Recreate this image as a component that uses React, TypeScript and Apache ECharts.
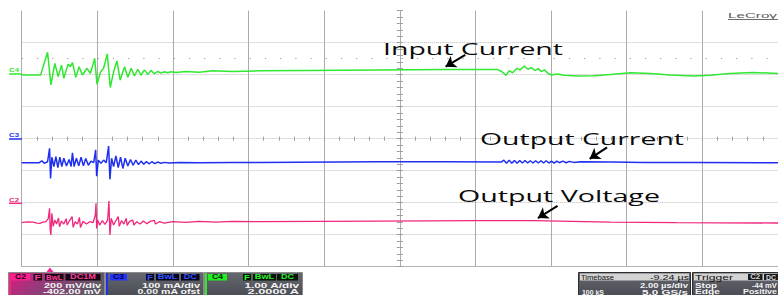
import React, { useEffect, useRef } from 'react';
import * as echarts from 'echarts';

// ---- Data (time in µs at 2.00 µs/div, level in screen divisions from bottom) ----
const timeSpanUs = 20;
const timePerDivUs = 2;
const verticalDivisions = 8;

const inputCurrentC4: [number, number][] = [
  [0, 5.99], [0.5, 5.99], [0.684, 6.7], [0.772, 5.68], [0.877, 6.35], [0.965, 5.94], [1.053, 6.3], [1.114, 5.89],
  [1.228, 6.33], [1.289, 6.25], [1.342, 6.38], [1.43, 5.92], [1.518, 6.25], [1.605, 5.99], [1.728, 6.2], [1.816, 6.04],
  [1.93, 6.51], [1.991, 5.7], [2.088, 6.09], [2.167, 6.2], [2.263, 6.65], [2.342, 5.6], [2.43, 6.09], [2.518, 6.43],
  [2.605, 5.83], [2.719, 6.25], [2.807, 5.92], [2.895, 6.2], [2.982, 5.96], [3.07, 6.17], [3.158, 5.99], [3.246, 6.15],
  [3.333, 6.01], [3.421, 6.13], [3.509, 6.03], [3.596, 6.1], [3.684, 6.05], [3.772, 6.09], [3.86, 6.06], [3.947, 6.09],
  [4.079, 6.07], [4.342, 6.1], [4.693, 6.08], [5.044, 6.12], [5.57, 6.1], [6.272, 6.12], [7.5, 6.13], [9.43, 6.15],
  [11.18, 6.16], [12.59, 6.16], [12.69, 6.1], [12.81, 5.98], [12.89, 6.13], [12.98, 6.06], [13.1, 6.2], [13.18, 6.15],
  [13.29, 6.27], [13.39, 6.17], [13.48, 6.22], [13.57, 6.13], [13.66, 6.19], [13.74, 6.1], [13.83, 6.15], [13.92, 6.04],
  [14.01, 5.99], [14.17, 6.02], [14.34, 5.98], [14.69, 5.96], [15.13, 5.97], [15.57, 6.01], [16.1, 6.06], [16.62, 6.04],
  [17.15, 5.99], [17.76, 5.96], [18.2, 5.98], [18.73, 6.04], [19.34, 6.07], [20, 6.04],
];

const outputCurrentC3: [number, number][] = [
  [0, 3.25], [0.465, 3.25], [0.535, 3.31], [0.596, 3.23], [0.684, 3.28], [0.737, 3.7], [0.763, 2.76], [0.798, 3.42],
  [0.851, 3.13], [0.904, 3.44], [0.956, 3.1], [1.009, 3.42], [1.061, 3.13], [1.114, 3.39], [1.184, 3.15], [1.254, 3.35],
  [1.307, 3.13], [1.342, 3.56], [1.386, 3.13], [1.447, 3.39], [1.509, 3.15], [1.57, 3.42], [1.632, 3.15], [1.693, 3.38],
  [1.763, 3.17], [1.833, 3.3], [1.904, 3.25], [1.956, 3.65], [1.982, 2.83], [2.026, 3.33], [2.096, 3.23], [2.167, 3.33],
  [2.237, 3.25], [2.298, 3.77], [2.333, 2.73], [2.377, 3.39], [2.43, 3.13], [2.491, 3.46], [2.553, 3.1], [2.614, 3.42],
  [2.675, 3.07], [2.737, 3.39], [2.807, 3.15], [2.877, 3.35], [2.947, 3.17], [3.018, 3.33], [3.088, 3.19], [3.158, 3.3],
  [3.228, 3.2], [3.298, 3.29], [3.368, 3.21], [3.439, 3.28], [3.518, 3.22], [3.596, 3.27], [3.684, 3.23], [3.772, 3.26],
  [3.904, 3.24], [4.167, 3.26], [4.693, 3.25], [5.57, 3.26], [6.272, 3.26], [9.43, 3.28], [11.18, 3.28], [12.68, 3.27],
  [12.75, 3.33], [12.82, 3.23], [12.89, 3.33], [12.96, 3.23], [13.03, 3.32], [13.1, 3.23], [13.17, 3.32], [13.24, 3.24],
  [13.31, 3.32], [13.38, 3.24], [13.45, 3.31], [13.52, 3.24], [13.59, 3.31], [13.66, 3.24], [13.73, 3.31], [13.8, 3.24],
  [13.87, 3.31], [13.94, 3.24], [14.01, 3.3], [14.08, 3.24], [14.15, 3.3], [14.22, 3.25], [14.31, 3.3], [14.4, 3.25],
  [14.48, 3.29], [14.61, 3.26], [14.78, 3.28], [15.57, 3.27], [16.45, 3.26], [17.76, 3.26], [20, 3.25],
];

const outputVoltageC2: [number, number][] = [
  [0, 1.375], [0.15, 1.4], [0.307, 1.396], [0.4, 1.36], [0.482, 1.354], [0.56, 1.39], [0.64, 1.406], [0.702, 1.5],
  [0.737, 1.823], [0.754, 1.146], [0.772, 0.99], [0.798, 1.667], [0.833, 1.26], [0.877, 1.458], [0.921, 1.333],
  [0.974, 1.521], [1.0, 1.25], [1.053, 1.427], [1.114, 1.333], [1.175, 1.5], [1.202, 1.302], [1.254, 1.417],
  [1.333, 1.563], [1.36, 1.229], [1.412, 1.406], [1.474, 1.333], [1.526, 1.542], [1.553, 1.229], [1.623, 1.417],
  [1.711, 1.333], [1.798, 1.406], [1.886, 1.375], [1.947, 1.615], [1.965, 1.979], [1.982, 1.198], [2.009, 1.458],
  [2.061, 1.302], [2.132, 1.438], [2.202, 1.323], [2.272, 1.458], [2.307, 2.052], [2.333, 0.99], [2.368, 1.51],
  [2.43, 1.302], [2.5, 1.458], [2.553, 1.563], [2.579, 1.26], [2.64, 1.438], [2.702, 1.333], [2.763, 1.51],
  [2.789, 1.292], [2.851, 1.417], [2.939, 1.458], [2.965, 1.302], [3.044, 1.406], [3.132, 1.333], [3.219, 1.427],
  [3.307, 1.344], [3.395, 1.417], [3.509, 1.448], [3.535, 1.333], [3.64, 1.406], [3.772, 1.365], [3.991, 1.406],
  [4.342, 1.385], [4.693, 1.417], [5.132, 1.396], [5.57, 1.417], [6.272, 1.406], [9.43, 1.427], [12.06, 1.438],
  [13.55, 1.438], [15.57, 1.396], [17.32, 1.375], [20, 1.365],
];

const annotationTexts = ['Input Current', 'Output Current', 'Output Voltage'];
const arrowTails: [number, number][] = [[11.73, 6.62], [15.48, 3.73], [14.17, 1.9]];
const arrowHeads: [number, number][] = [[11.21, 6.25], [15.02, 3.37], [13.65, 1.52]];
const dottedLevelDiv = 6.5;

const channelNames = ['C2', 'C3', 'C4'];
const channelScales = ['200 mV/div', '100 mA/div', '1.00 A/div'];
const channelOffsets = ['-402.00 mV', '0.00 mA ofst', '2.0000 A'];
const channelFlags = [['F', 'BwL', 'DC1M'], ['F', 'BwL', 'DC'], ['F', 'BwL', 'DC']];
const timebaseTexts = ['Timebase', '-9.24 µs', '2.00 µs/div', '100 kS', '5.0 GS/s'];
const triggerTexts = ['Trigger', 'C2', 'DC', 'Stop', '-44 mV', 'Edge', 'Positive'];
const brandText = 'LeCroy';

// ---- Styling / layout ----
const GREEN = '#2fe82f';
const BLUE = '#1f2ff0';
const PINK = '#f0277d';
const SANS = '"Liberation Sans"';
const BODY_FONT = `bold 7.5px ${SANS}`;
const BODY_FONT2 = `bold 7px ${SANS}`;
const HEAD_FONT = `8px ${SANS}`;

let measureCtx: CanvasRenderingContext2D | null = null;
function measure(text: string, font: string) {
  if (!measureCtx) measureCtx = document.createElement('canvas').getContext('2d');
  measureCtx!.font = font;
  return measureCtx!.measureText(text).width || 1;
}

function txt(text: string, x: number, y: number, font: string, fill: string, width?: number, align: string = 'left') {
  const scaleX = width ? width / measure(text, font) : 1;
  return {
    type: 'text', x, y, scaleX, silent: true, z: 100,
    style: { text, font, fill, align, verticalAlign: 'middle' },
  };
}

function rect(x: number, y: number, w: number, h: number, fill: any, stroke?: string) {
  return {
    type: 'rect', silent: true, z: 90,
    shape: { x, y, width: w, height: h },
    style: stroke ? { fill, stroke, lineWidth: 1 } : { fill },
  };
}

function buildGraphics() {
  const els: any[] = [];
  // annotation texts
  const annoFont = `15.5px "Open Sans"`;
  const annoPos = [[383, 48.8, 180], [480, 138.8, 204], [458, 195.5, 202]];
  annotationTexts.forEach((t, i) => {
    const [x, y, w] = annoPos[i];
    els.push(txt(t, x, y, annoFont, '#0a0a0a', w));
  });
  // brand
  els.push(txt(brandText, 728, 15.6, `8px ${SANS}`, '#5a5a5a', 49));
  els.push({ type: 'line', silent: true, z: 100, shape: { x1: 728, y1: 19.5, x2: 778, y2: 19.5 }, style: { stroke: '#6a6a6a', lineWidth: 1 } });

  // channel markers on the left
  const markerY = [[70, 74, GREEN, 'C4'], [134.7, 139, BLUE, 'C3'], [199.7, 203.3, PINK, 'C2']];
  markerY.forEach(([ty, ly, color, name]: any) => {
    els.push(txt(name, 9, ty, `bold 5.5px ${SANS}`, color, 10));
    els.push({ type: 'line', silent: true, z: 100, shape: { x1: 9, y1: ly, x2: 21.7, y2: ly }, style: { stroke: color, lineWidth: 1.5 } });
  });

  // trigger position marker
  els.push({ type: 'polygon', silent: true, z: 100, shape: { points: [[46.5, 272], [53.5, 272], [50, 267.5]] }, style: { fill: '#ff1f8f' } });

  // channel panels
  const panelX = [[8.5, 96], [105.5, 98], [204.5, 98]];
  const chColors = [PINK, BLUE, GREEN];
  const labelBoxFill = ['#ff1f8f', '#2233ff', '#22ee22'];
  const labelTextFill = ['#1a0010', '#000040', '#002a00'];
  const flagBoxFill = ['#160810', '#05051e', '#061406'];
  const flagTextFill = ['#ff3d9a', '#3355ff', '#2ef02e'];
  const labelBoxes = [[11, 19], [110, 17], [208, 19]];
  const flagBoxes = [
    [[33.5, 8.5], [45, 18.5], [65.5, 35]],
    [[146, 8], [156, 23], [181, 18.5]],
    [[243, 8], [253, 23], [277, 21]],
  ];
  const rightEdge = [101, 200, 299];
  const scaleW = [57, 58, 55];
  const offsetW = [58, 63, 52];
  panelX.forEach(([px, pw], i) => {
    const fill = i === 0
      ? new echarts.graphic.LinearGradient(0, 0, 1, 0.3, [
          { offset: 0, color: '#dc1a80' }, { offset: 0.45, color: '#963a7a' }, { offset: 1, color: '#5e5a66' }])
      : new echarts.graphic.LinearGradient(0, 0, 0, 1, [
          { offset: 0, color: '#65686f' }, { offset: 1, color: '#4a4c53' }]);
    els.push(rect(px, 272.5, pw, 24, fill, '#8a8a8a'));
    els.push(rect(px + 0.5, 273, 2, 23, chColors[i]));
    const [lx, lw] = labelBoxes[i];
    els.push(rect(lx, 274, lw, 6.5, labelBoxFill[i]));
    els.push(txt(channelNames[i], lx + lw / 2, 277.3, `bold 6.5px ${SANS}`, labelTextFill[i], 11, 'center'));
    flagBoxes[i].forEach(([fx, fw], k) => {
      els.push(rect(fx, 274, fw, 6.5, flagBoxFill[i]));
      const t = channelFlags[i][k];
      els.push(txt(t, fx + fw / 2, 277.3, `bold 6.5px ${SANS}`, flagTextFill[i], Math.min(fw - 2, t.length * 6.5), 'center'));
    });
    els.push(txt(channelScales[i], rightEdge[i], 285.3, BODY_FONT, '#f4f4f4', scaleW[i], 'right'));
    els.push(txt(channelOffsets[i], rightEdge[i], 292, BODY_FONT2, '#f4f4f4', offsetW[i], 'right'));
  });

  // timebase panel
  const grayBody = () => new echarts.graphic.LinearGradient(0, 0, 0, 1, [
    { offset: 0, color: '#64676e' }, { offset: 1, color: '#4a4c53' }]);
  els.push(rect(578.5, 272.5, 112, 24, grayBody(), '#2e2e2e'));
  els.push(rect(580, 273.5, 109, 7, '#d3d3d3'));
  els.push(txt(timebaseTexts[0], 581, 277.2, HEAD_FONT, '#111', 33));
  els.push(txt(timebaseTexts[1], 689, 277.2, HEAD_FONT, '#111', 39, 'right'));
  els.push(txt(timebaseTexts[2], 688, 285.3, BODY_FONT, '#f4f4f4', 48, 'right'));
  els.push(txt(timebaseTexts[3], 582, 292, BODY_FONT2, '#f4f4f4', 22));
  els.push(txt(timebaseTexts[4], 688, 292, BODY_FONT2, '#f4f4f4', 46, 'right'));

  // trigger panel
  els.push(rect(692.5, 272.5, 92, 24, grayBody(), '#2e2e2e'));
  els.push(rect(694, 273.5, 90, 7, '#d3d3d3'));
  els.push(txt(triggerTexts[0], 695, 277.2, HEAD_FONT, '#111', 38));
  els.push(rect(748, 274, 14.5, 6, '#1c1c1c'));
  els.push(txt(triggerTexts[1], 755.2, 277.1, `bold 6.5px ${SANS}`, '#d8d8d8', 10, 'center'));
  els.push(rect(764, 274, 16, 6, '#1c1c1c'));
  els.push(txt(triggerTexts[2], 766, 277.1, `bold 6.5px ${SANS}`, '#d8d8d8', 10));
  els.push(txt(triggerTexts[3], 695, 285.3, BODY_FONT, '#f4f4f4', 22));
  els.push(txt(triggerTexts[4], 752, 285.3, BODY_FONT, '#f4f4f4', 25));
  els.push(txt(triggerTexts[5], 695, 292, BODY_FONT2, '#f4f4f4', 25));
  els.push(txt(triggerTexts[6], 743, 292, BODY_FONT2, '#f4f4f4', 34));
  return els;
}

function arrowMark(i: number) {
  return {
    silent: true,
    symbol: ['none', 'arrow'],
    symbolSize: 10,
    label: { show: false },
    emphasis: { disabled: true },
    lineStyle: { color: '#000', width: 2, type: 'solid' },
    itemStyle: { color: '#000' },
    data: [[{ coord: arrowTails[i] }, { coord: arrowHeads[i] }]],
  };
}

const hiddenAxis = {
  axisLabel: { show: false },
  splitLine: { show: false },
};

export default function App() {
  const ref = useRef<HTMLDivElement>(null);
  useEffect(() => {
    if (!ref.current) return;
    const chart = echarts.init(ref.current, undefined, { renderer: 'svg' });
    const minorTick = (len: number) => ({ show: true, splitNumber: 5, length: len, lineStyle: { color: '#9c9c9c', width: 1 } });
    const centerTick = (len: number) => ({ show: true, length: len, lineStyle: { color: '#9c9c9c', width: 1 } });
    chart.setOption({
      animation: false,
      backgroundColor: '#ffffff',
      grid: { left: 21.7, right: -3.7, top: 10.7, bottom: 28.3, containLabel: false },
      xAxis: [
        {
          type: 'value', min: 0, max: timeSpanUs, interval: timePerDivUs,
          axisLine: { show: true, onZero: false, lineStyle: { color: '#b4b4b4', width: 1 } },
          axisTick: { show: false }, axisLabel: { show: false },
          splitLine: { show: true, lineStyle: { color: '#ababab', width: 1 } },
        },
        {
          type: 'value', min: -timeSpanUs / 2, max: timeSpanUs / 2, interval: timePerDivUs, ...hiddenAxis,
          axisLine: { show: false, onZero: true, onZeroAxisIndex: 1 },
          axisTick: { ...centerTick(2), inside: true }, minorTick: minorTick(2),
        },
        {
          type: 'value', min: -timeSpanUs / 2, max: timeSpanUs / 2, interval: timePerDivUs, ...hiddenAxis,
          axisLine: { show: false, onZero: true, onZeroAxisIndex: 1 },
          axisTick: { ...centerTick(2), inside: false }, minorTick: minorTick(2),
        },
      ],
      yAxis: [
        {
          type: 'value', min: 0, max: verticalDivisions, interval: 1,
          axisLine: { show: false }, axisTick: { show: false }, axisLabel: { show: false },
          splitLine: { show: true, showMaxLine: false, lineStyle: { color: '#bdbdbd', width: 1, type: 'dotted' } },
        },
        {
          type: 'value', min: -verticalDivisions / 2, max: verticalDivisions / 2, interval: 1, ...hiddenAxis,
          axisLine: { show: false, onZero: true, onZeroAxisIndex: 1 },
          axisTick: { ...centerTick(3), inside: true }, minorTick: minorTick(3),
        },
        {
          type: 'value', min: -verticalDivisions / 2, max: verticalDivisions / 2, interval: 1, ...hiddenAxis,
          axisLine: { show: false, onZero: true, onZeroAxisIndex: 1 },
          axisTick: { ...centerTick(3), inside: false }, minorTick: minorTick(3),
        },
      ],
      series: [
        {
          type: 'line', name: 'grid-dots', data: [], silent: true,
          markLine: {
            silent: true, symbol: ['none', 'none'], label: { show: false }, emphasis: { disabled: true },
            lineStyle: { color: '#9a9a9a', width: 1, type: [1.2, 14] },
            data: [{ yAxis: dottedLevelDiv }],
          },
        },
        {
          type: 'line', name: annotationTexts[0], data: inputCurrentC4, showSymbol: false, symbol: 'none', silent: true,
          lineStyle: { color: GREEN, width: 1.5 }, itemStyle: { color: GREEN }, z: 3,
          markLine: arrowMark(0),
        },
        {
          type: 'line', name: annotationTexts[1], data: outputCurrentC3, showSymbol: false, symbol: 'none', silent: true,
          lineStyle: { color: BLUE, width: 1.5 }, itemStyle: { color: BLUE }, z: 3,
          markLine: arrowMark(1),
        },
        {
          type: 'line', name: annotationTexts[2], data: outputVoltageC2, showSymbol: false, symbol: 'none', silent: true,
          lineStyle: { color: PINK, width: 1.3 }, itemStyle: { color: PINK }, z: 3,
          markLine: arrowMark(2),
        },
      ],
      graphic: { elements: buildGraphics() },
    });
    return () => chart.dispose();
  }, []);
  return (
    <div
      ref={ref}
      style={{ position: 'fixed', left: 0, top: 0, width: 778, height: 295, overflow: 'hidden', background: '#fff' }}
    />
  );
}
